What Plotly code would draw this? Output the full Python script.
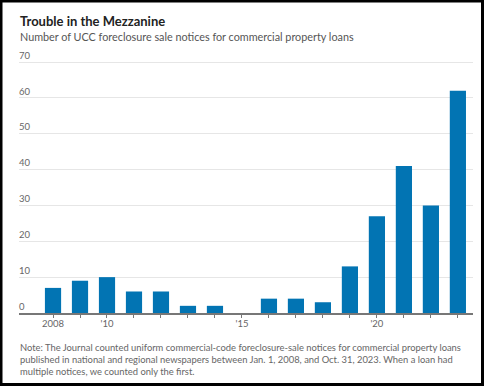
import plotly.graph_objects as go

# ---- data ----
years = list(range(2008, 2024))
notices = [7, 9, 10, 6, 6, 2, 2, 0, 4, 4, 3, 13, 27, 41, 30, 62]
x_tick_labels = ["2008", "", "'10", "", "", "", "", "'15", "", "", "", "", "'20", "", "", ""]
y_tick_vals = [0, 10, 20, 30, 40, 50, 60, 70]

title = "Trouble in the Mezzanine"
subtitle = "Number of UCC foreclosure sale notices for commercial property loans"
note = ("Note: The Journal counted uniform commercial-code foreclosure-sale notices for commercial property loans<br>"
        "published in national and regional newspapers between Jan. 1, 2008, and Oct. 31, 2023. When a loan had<br>"
        "multiple notices, we counted only the first.")

W, H = 484, 386
ML, MR, MT, MB = 19, 11, 40, 73
PW, PH = W - ML - MR, H - MT - MB

def px(x):
    return (x - ML) / PW

def py(y):
    return (H - MB - y) / PH

FONT = "Lato, sans-serif"

fig = go.Figure(go.Bar(x=years, y=notices, marker_color="#0274b3", width=0.6,
                       marker_line_width=0))

fig.update_layout(
    width=W, height=H,
    margin=dict(l=ML, r=MR, t=MT, b=MB),
    paper_bgcolor="white", plot_bgcolor="white",
    showlegend=False,
    font=dict(family=FONT, color="#666"),
    xaxis=dict(range=[2006.74, 2023.56], tickvals=years, ticktext=x_tick_labels,
               showline=True, linecolor="#777", linewidth=1.5,
               ticks="outside", ticklen=3, tickcolor="#777", tickwidth=1,
               ticklabelstandoff=-2,
               showgrid=False, tickfont=dict(size=9.5, color="#666"), fixedrange=True),
    yaxis=dict(range=[0, 70 * PH / (H - MB - 62)], tickvals=y_tick_vals,
               ticklabelposition="inside top", showgrid=True, gridcolor="#e6e6e6",
               gridwidth=1, zeroline=False, showline=False, ticks="",
               ticklabelstandoff=-3, ticklabelshift=0,
               tickfont=dict(size=9.5, color="#666"), fixedrange=True),
)

fig.add_annotation(text="<b>" + title + "</b>", xref="paper", yref="paper",
                   x=px(18), y=py(11), xanchor="left", yanchor="top", showarrow=False,
                   font=dict(size=13, color="#222", family=FONT), align="left")
fig.add_annotation(text=subtitle, xref="paper", yref="paper",
                   x=px(18), y=py(28), xanchor="left", yanchor="top", showarrow=False,
                   font=dict(size=10.8, color="#555", family=FONT), align="left")
fig.add_annotation(text=note, xref="paper", yref="paper",
                   x=px(18), y=py(340), xanchor="left", yanchor="top", showarrow=False,
                   font=dict(size=9.4, color="#666", family=FONT), align="left")

# frame around the whole graphic
fig.add_shape(type="rect", xref="paper", yref="paper",
              x0=px(1), x1=px(482.5), y0=py(1), y1=py(384.5),
              line=dict(color="black", width=3), layer="above")

fig.write_html("out.html", config={"displayModeBar": False},
               post_script="document.body.style.margin='0';document.body.style.padding='0';")
